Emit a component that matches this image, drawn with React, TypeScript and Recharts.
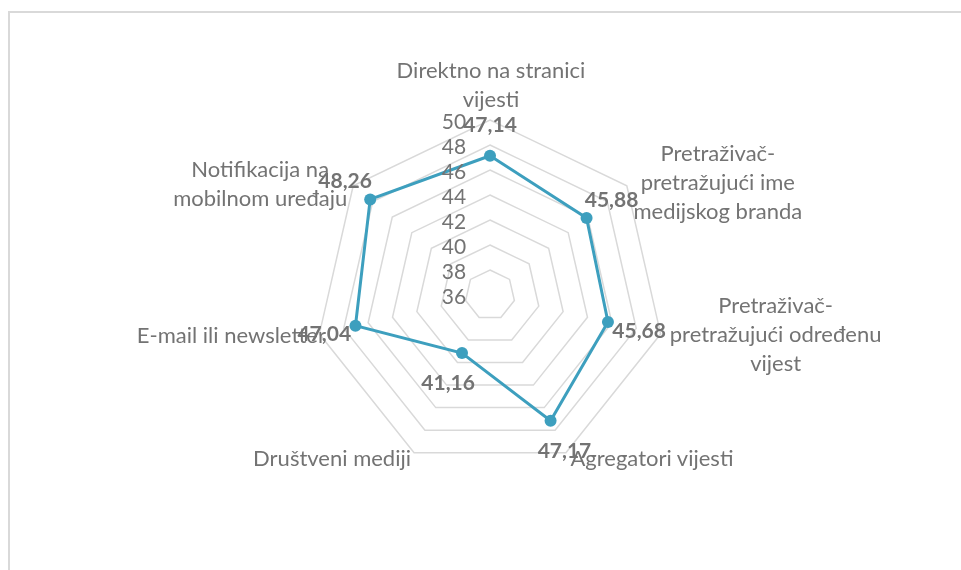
import React from 'react'
import { RadarChart, Radar, PolarGrid, PolarAngleAxis, PolarRadiusAxis } from 'recharts'

// category labels, already split the way the reference wraps them
const CATEGORY_LINES: string[][] = [
  ['Direktno na stranici', 'vijesti'],
  ['Pretraživač-', 'pretražujući ime', 'medijskog branda'],
  ['Pretraživač-', 'pretražujući određenu', 'vijest'],
  ['Agregatori vijesti'],
  ['Društveni mediji'],
  ['E-mail ili newsletter'],
  ['Notifikacija na', 'mobilnom uređaju'],
]

const VALUES = [47.14, 45.88, 45.68, 47.17, 41.16, 47.04, 48.26]

const RADIUS_TICKS = [36, 38, 40, 42, 44, 46, 48, 50]

const data = CATEGORY_LINES.map((lines, i) => ({
  name: lines.join(' '),
  value: VALUES[i],
}))

// layout
const W = 945
const H = 554
const CX = 482
const CY = 287
const R = 175
const FONT = 'Lato, "Open Sans", sans-serif'
const TEXT = '#737373'
const SERIES = '#3d9fbe'
const GRID = '#d9d9d9'
const LINE_H = 29

// nudge from the outer vertex to the middle of each category label block
const LABEL_NUDGE: [number, number][] = [
  [1, -36.5], [91, -4], [115, 0], [86, 5], [-82, 5], [-88, 1], [-93, -3],
]

const fmt = (n: number) => n.toFixed(2).replace('.', ',')

// eslint-disable-next-line @typescript-eslint/no-explicit-any
const AngleTick = (props: any) => {
  const idx: number = props.payload?.index ?? props.index ?? 0
  const ang = ((props.payload?.coordinate ?? 90) * Math.PI) / 180
  const vx = CX + R * Math.cos(ang)
  const vy = CY - R * Math.sin(ang)
  const [nx, ny] = LABEL_NUDGE[idx] || [0, 0]
  const lines = CATEGORY_LINES[idx] || [String(props.payload?.value)]
  const top = vy + ny - ((lines.length - 1) * LINE_H) / 2
  return (
    <text textAnchor="middle" fill={TEXT} fontFamily={FONT} fontSize={22}>
      {lines.map((l, i) => (
        <tspan key={i} x={vx + nx} y={top + i * LINE_H} dominantBaseline="central">
          {l}
        </tspan>
      ))}
    </text>
  )
}

// eslint-disable-next-line @typescript-eslint/no-explicit-any
const RadiusTick = (props: any) => (
  <text
    x={CX - 36}
    y={props.y}
    textAnchor="middle"
    dominantBaseline="central"
    fill={TEXT}
    fontFamily={FONT}
    fontSize={21}
  >
    {props.payload?.value}
  </text>
)

// eslint-disable-next-line @typescript-eslint/no-explicit-any
const Dot = (props: any) => {
  const { cx, cy, index } = props
  const dx = cx - CX
  const dy = cy - CY
  const len = Math.hypot(dx, dy) || 1
  const lx = cx + (dx / len) * 32
  const ly = cy + (dy / len) * 32
  const v = VALUES[index] ?? props.value
  return (
    <g key={`dot-${index}`}>
      <circle cx={cx} cy={cy} r={6} fill={SERIES} />
      <text
        x={lx}
        y={ly}
        textAnchor="middle"
        dominantBaseline="central"
        fill={TEXT}
        fontFamily={FONT}
        fontWeight={700}
        fontSize={21}
      >
        {fmt(v)}
      </text>
    </g>
  )
}

export default function App() {
  return (
    <div style={{ width: W, height: H, position: 'relative', background: '#fff' }}>
      <div
        style={{
          position: 'fixed',
          left: 8,
          top: 11,
          right: 0,
          bottom: 0,
          borderTop: `2px solid ${GRID}`,
          borderLeft: `2px solid ${GRID}`,
          pointerEvents: 'none',
        }}
      />
      <RadarChart width={W} height={H} data={data} cx={CX} cy={CY} outerRadius={R} startAngle={90} endAngle={-270}>
        <PolarGrid gridType="polygon" radialLines={false} stroke={GRID} strokeWidth={1.5} />
        <PolarAngleAxis dataKey="name" tick={AngleTick} tickLine={false} axisLine={false} />
        <PolarRadiusAxis
          angle={90}
          type="number"
          domain={[36, 50]}
          ticks={RADIUS_TICKS}
          tickCount={RADIUS_TICKS.length}
          axisLine={false}
          tickLine={false}
          tick={RadiusTick}
        />
        <Radar
          dataKey="value"
          stroke={SERIES}
          strokeWidth={3}
          fill="none"
          fillOpacity={0}
          dot={Dot}
          isAnimationActive={false}
        />
      </RadarChart>
    </div>
  )
}
